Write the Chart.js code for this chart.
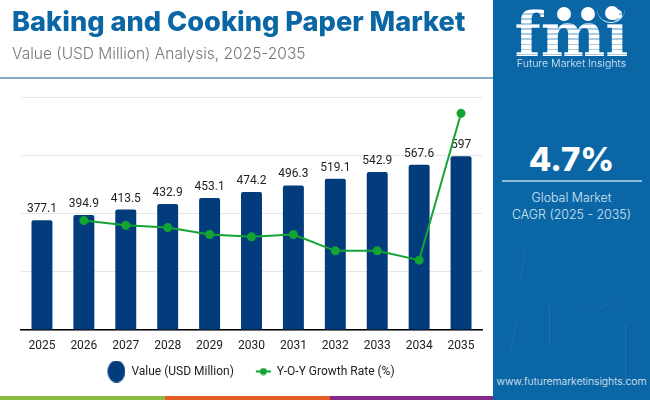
<!DOCTYPE html>
<html>
<head>
<meta charset="utf-8">
<script src="https://cdn.jsdelivr.net/npm/chart.js@4"></script>
<style>
html, body { margin: 0; padding: 0; background: #fff; overflow: hidden; }
#page { position: relative; width: 650px; height: 400px; overflow: hidden; font-family: Inter, sans-serif; }
#chartBox { position: absolute; left: 0; top: 0; width: 488px; height: 400px; }
.abs { position: absolute; white-space: nowrap; }
#title { left: 12px; top: 3px; font-size: 27.2px; line-height: 38px; font-weight: 800; color: #0a66a4; }
#subtitle { left: 12px; top: 43px; font-size: 15.5px; line-height: 22px; font-weight: 300; color: #777; }
#rule { left: 0; top: 77px; width: 493px; height: 2px; background: #86aac8; }
#panel { left: 493px; top: 0; width: 157px; height: 400px; background: #0b66a6; overflow: hidden; }
#panel .abs { color: #fff; text-align: center; left: 0; width: 157px; }
#logo { top: 0px; font: bold 61px/70px "DejaVu Serif", serif;
  background: repeating-linear-gradient(#fff 0 3.5px, #a9cbe4 3.5px 5px); -webkit-background-clip: text; background-clip: text; color: transparent !important; }
#brand { top: 56px; font-size: 10.6px; line-height: 16px; font-weight: 300; color: #dcebf6 !important; }
.globe { position: absolute; width: 14px; height: 14px; border-radius: 50%; background: #fff; }
#arc { position: absolute; left: 104px; top: 8px; width: 28px; height: 14px; border-bottom: 1px solid #dcebf6; border-radius: 0 0 16px 16px; }
#cagr { top: 139px; font-size: 33px; line-height: 40px; font-weight: 800; }
#cagrRule { left: 9px !important; width: 140px !important; top: 180px; height: 2px; background: #8fbbdc; }
#cagrText { top: 189px; font-size: 12.4px; line-height: 17px; font-weight: 300; color: #d3e6f4 !important; white-space: pre; }
#site { top: 375px; font-size: 10.4px; line-height: 14px; font-weight: 300; color: #e4f0f8 !important; }
.speck { position: absolute; width: 1px; background: rgba(255,255,255,.08); }
.stripe { position: absolute; top: 396px; height: 4px; }
</style>
</head>
<body>
<div id="page">
  <div id="chartBox"><canvas id="myChart"></canvas></div>
  <div class="abs" id="title">Baking and Cooking Paper Market</div>
  <div class="abs" id="subtitle">Value (USD Million) Analysis, 2025-2035</div>
  <div class="abs" id="rule"></div>
  <div class="stripe" style="left:0;width:165px;background:#8bbb40"></div>
  <div class="stripe" style="left:165px;width:165px;background:#e65c26"></div>
  <div class="stripe" style="left:330px;width:163px;background:#852a86"></div>
  <div class="abs" id="panel">
    <div class="speck" style="left:29px;top:253px;height:26px;transform:rotate(10deg)"></div>
    <div class="speck" style="left:56px;top:305px;height:40px"></div>
    <div class="speck" style="left:132px;top:325px;height:60px"></div>
    <div class="speck" style="left:20px;top:320px;height:30px;transform:rotate(12deg)"></div>
    <div class="speck" style="left:108px;top:295px;height:24px;transform:rotate(70deg)"></div>
    <div class="abs" id="logo">fmi</div>
    <div id="arc"></div>
    <div class="globe" style="left:64px;top:7px"></div>
    <div class="globe" style="left:88px;top:7px"></div>
    <div class="globe" style="left:112px;top:6px"></div>
    <div class="abs" id="brand">Future Market Insights</div>
    <div class="abs" id="cagr">4.7%</div>
    <div class="abs" id="cagrRule"></div>
    <div class="abs" id="cagrText">Global Market
CAGR (2025 - 2035)</div>
    <div class="abs" id="site">www.futuremarketinsights.com</div>
  </div>
</div>
<script>
const years = ["2025", "2026", "2027", "2028", "2029", "2030", "2031", "2032", "2033", "2034", "2035"];
const value = [377.1, 394.9, 413.5, 432.9, 453.1, 474.2, 496.3, 519.1, 542.9, 567.6, 597];
const growth = [null, 4.72, 4.70, 4.69, 4.66, 4.65, 4.66, 4.59, 4.59, 4.55, 5.18];

const navy = "#023c7c";
const green = "#12a533";
const markerBox = 26;

Chart.defaults.font.family = "Roboto";
Chart.defaults.font.size = 12;
Chart.defaults.color = "#222";

// legend markers sit at the right of a wide box, that gives the gap between the two items
function valueMarker() {
    let c = document.createElement("canvas");
    c.width = markerBox; c.height = 22;
    let g = c.getContext("2d");
    g.fillStyle = navy;
    g.beginPath();
    g.ellipse(markerBox - 9, 11, 9, 11, 0, 0, Math.PI * 2);
    g.fill();
    return c;
}

function growthMarker() {
    let c = document.createElement("canvas");
    c.width = markerBox; c.height = 8;
    let g = c.getContext("2d");
    g.fillStyle = green;
    g.fillRect(markerBox - 15, 3, 15, 2);
    g.beginPath();
    g.arc(markerBox - 7.5, 4, 3.5, 0, Math.PI * 2);
    g.fill();
    return c;
}

const barLabels = {
    id: "barLabels",
    beforeDatasetsDraw(chart) {
        let ctx = chart.ctx;
        let bars = chart.getDatasetMeta(0).data;
        ctx.save();
        ctx.font = "12px Roboto";
        ctx.fillStyle = "#222";
        ctx.textAlign = "center";
        ctx.textBaseline = "bottom";
        bars.forEach((bar, i) => ctx.fillText(String(value[i]), bar.x, bar.y - 5));
        ctx.restore();
    }
};

new Chart(document.getElementById("myChart"), {
    type: "bar",
    data: {
        labels: years,
        datasets: [
            {
                label: "Value (USD Million)",
                data: value,
                backgroundColor: navy,
                borderRadius: 2,
                borderSkipped: "bottom",
                categoryPercentage: 1,
                barPercentage: 0.5,
                yAxisID: "y",
                order: 2,
            },
            {
                type: "line",
                label: "Y-O-Y Growth Rate (%)",
                data: growth,
                borderColor: green,
                backgroundColor: green,
                borderWidth: 2,
                pointRadius: 3.5,
                pointHoverRadius: 3.5,
                tension: 0,
                yAxisID: "y2",
                order: 1,
            },
        ],
    },
    options: {
        responsive: true,
        maintainAspectRatio: false,
        animation: false,
        layout: { padding: { left: 12, right: 6, top: 97, bottom: 12.5 } },
        plugins: {
            legend: {
                position: "bottom",
                labels: {
                    usePointStyle: true,
                    pointStyleWidth: markerBox,
                    font: { size: 12, family: "Roboto" },
                    color: "#222",
                    padding: 11,
                    generateLabels: () => [
                        { text: "Value (USD Million)", pointStyle: valueMarker(), fontColor: "#222", lineWidth: 0, strokeStyle: "transparent", fillStyle: navy },
                        { text: "Y-O-Y Growth Rate (%)", pointStyle: growthMarker(), fontColor: "#222", lineWidth: 0, strokeStyle: "transparent", fillStyle: green },
                    ],
                },
            },
            tooltip: { enabled: false },
        },
        scales: {
            y: {
                min: 0,
                max: 800,
                ticks: { display: false, stepSize: 200 },
                grid: { color: "#e6e6e6", drawTicks: false, lineWidth: 1 },
                border: { display: false },
                afterFit: scale => { scale.width = 9; },
            },
            y2: {
                min: 4.25,
                max: 5.25,
                display: false,
            },
            x: {
                grid: { display: false },
                border: { color: "#000", width: 1.5 },
                ticks: { color: "#222", font: { size: 12, family: "Roboto" }, padding: 1, maxRotation: 0 },
            },
        },
    },
    plugins: [barLabels],
});
</script>
</body>
</html>
